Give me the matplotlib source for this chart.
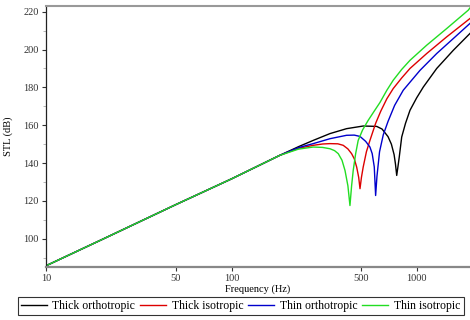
# STL vs frequency: thick/thin, orthotropic/isotropic panels
import numpy as np
import matplotlib.pyplot as plt
from matplotlib.ticker import FixedLocator, NullLocator, MultipleLocator

# shared mass-law part (all four curves overlap here)
freq_low = [10, 20, 50, 100, 182]
stl_low = [85.9, 99.7, 118.1, 131.7, 144.1]

freq_thick_ortho = [230, 276, 340, 418, 514, 608, 650, 700, 730, 755, 768, 780,
                    793, 805, 830, 870, 920, 1000, 1086, 1283, 1577, 1941]
stl_thick_ortho = [148.7, 152.0, 155.6, 158.2, 159.6, 159.4, 158.0, 154.0, 150.0, 144.5, 139.5, 133.5,
                   138.5, 143.2, 153.8, 161.0, 167.9, 174.5, 180.2, 190.0, 199.6, 208.5]

freq_thick_iso = [230, 276, 310, 340, 375, 401, 425, 445, 460, 474, 486, 494,
                  503, 514, 535, 559, 600, 640, 690, 747, 830, 920, 1133, 1453, 1941]
stl_thick_iso = [147.8, 149.4, 150.1, 150.3, 150.2, 149.4, 147.5, 145.0, 142.3, 137.9, 132.5, 126.5,
                 132.5, 137.9, 146.0, 152.0, 161.0, 167.5, 174.0, 179.4, 185.0, 190.0, 197.9, 206.7, 216.4]

freq_thin_ortho = [230, 276, 340, 418, 460, 494, 530, 559, 575, 590, 600,
                   610, 630, 660, 700, 760, 846, 1042, 1283, 1577, 1941]
stl_thin_ortho = [148.2, 150.3, 152.9, 154.7, 154.8, 154.1, 151.5, 148.5, 145.0, 138.0, 122.9,
                  133.0, 146.0, 155.0, 162.0, 170.5, 178.5, 189.0, 197.9, 205.8, 213.8]

freq_thin_iso = [230, 276, 310, 340, 360, 377, 395, 410, 425, 436,
                 445, 454, 468, 483, 510, 547, 590, 633, 690, 747, 830, 920, 1133, 1453, 1900, 1941]
stl_thin_iso = [147.4, 148.5, 148.3, 147.6, 146.6, 145.0, 141.5, 136.1, 128.0, 117.6,
                128.0, 136.1, 145.0, 152.0, 157.5, 162.6, 167.5, 172.0, 178.5, 183.8, 189.5, 194.3, 202.3, 211.1, 220.8, 222.0]

labels = ["Thick orthotropic", "Thick isotropic", "Thin orthotropic", "Thin isotropic"]
colors = ["black", "#dd0000", "#0000cc", "#22dd22"]

plt.rcParams["font.family"] = ["Liberation Serif", "DejaVu Serif"]

fig = plt.figure(figsize=(4.7, 3.2), dpi=100)
ax = fig.add_axes([0.0972, 0.1666, 0.9028, 0.8147])

series = [
    (freq_thick_ortho, stl_thick_ortho),
    (freq_thick_iso, stl_thick_iso),
    (freq_thin_ortho, stl_thin_ortho),
    (freq_thin_iso, stl_thin_iso),
]
for (f, s), lab, c in zip(series, labels, colors):
    ax.plot(freq_low + f, stl_low + s, color=c, lw=1.0, label=lab)

ax.set_xscale("log")
ax.set_xlim(9.9, 1941)
ax.set_ylim(85.3, 223)

ax.xaxis.set_major_locator(FixedLocator([10, 50, 100, 500, 1000]))
ax.xaxis.set_minor_locator(NullLocator())
ax.set_xticklabels(["10", "50", "100", "500", "1000"])
ax.yaxis.set_major_locator(MultipleLocator(20))
ax.yaxis.set_minor_locator(MultipleLocator(10))

ax.tick_params(axis="both", which="major", labelsize=7.5, length=3, width=0.8,
               direction="out", colors="#333333", pad=2)
ax.tick_params(axis="y", which="minor", length=2, width=0.6, colors="#aaaaaa")

ax.spines["right"].set_visible(False)
ax.spines["left"].set_color("#222222")
ax.spines["left"].set_linewidth(0.9)
ax.spines["bottom"].set_color("#888888")
ax.spines["bottom"].set_linewidth(1.6)
ax.spines["top"].set_color("#999999")
ax.spines["top"].set_linewidth(1.5)

ax.set_xlabel("Frequency (Hz)", fontsize=7.5)
ax.set_ylabel("STL (dB)", fontsize=7.5)
ax.xaxis.set_label_coords(0.5, -0.068)
ax.yaxis.set_label_coords(-0.077, 0.5)

leg = fig.legend(loc="center", bbox_to_anchor=(0.512, 0.044), ncol=4, fontsize=8.5,
                 frameon=True, fancybox=False, edgecolor="black", handlelength=2.2,
                 handletextpad=0.5, columnspacing=0.4, borderpad=0.25,
                 borderaxespad=0)
leg.get_frame().set_linewidth(0.8)

fig.savefig("out.png", dpi=100)
